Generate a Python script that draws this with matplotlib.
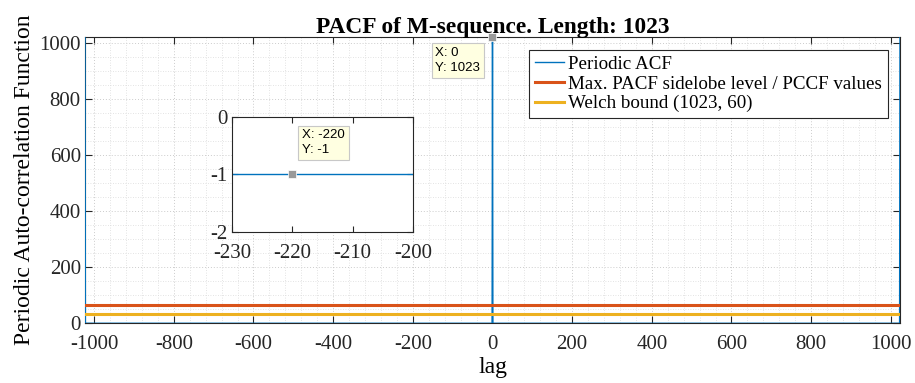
import numpy as np
import matplotlib
matplotlib.use("Agg")
import matplotlib.pyplot as plt
from matplotlib.ticker import MultipleLocator

plt.rcParams["axes.unicode_minus"] = False

N = 1023
lags = np.arange(-N, N + 1)
acf = np.full(lags.shape, -1.0)
acf[lags == 0] = 1023
acf[lags == -N] = 1023
acf[lags == N] = 1023
max_sidelobe = 63
welch_bound = 31.7

xticks = [-1000, -800, -600, -400, -200, 0, 200, 400, 600, 800, 1000]
yticks = [0, 200, 400, 600, 800, 1000]
inset_xticks = [-230, -220, -210, -200]
inset_yticks = [-2, -1, 0]
tip_main = (0, 1023)
tip_inset = (-220, -1)

BLUE = "#0072BD"
ORANGE = "#D95319"
YELLOW = "#EDB120"
serif = ["Liberation Serif", "DejaVu Serif"]
sans = ["Liberation Sans", "DejaVu Sans"]
TIPBOX = dict(boxstyle="square,pad=0.3", fc="#FFFFE1", ec="#c8c8c8", lw=0.8)

fig = plt.figure(figsize=(9.15, 3.83), dpi=100)
ax = fig.add_axes([0.0929, 0.1567, 0.8907, 0.7467])

ax.plot(lags, acf, color=BLUE, lw=1.0, label="Periodic ACF", zorder=3)
ax.axhline(max_sidelobe, color=ORANGE, lw=2.2, label="Max. PACF sidelobe level / PCCF values", zorder=3)
ax.axhline(welch_bound, color=YELLOW, lw=2.2, label="Welch bound (1023, 60)", zorder=3)

ax.set_xlim(-N, N)
ax.set_ylim(0, 1023)
ax.set_xticks(xticks)
ax.set_yticks(yticks)
ax.xaxis.set_minor_locator(MultipleLocator(40))
ax.yaxis.set_minor_locator(MultipleLocator(50))
ax.grid(True, which="major", color="#cccccc", ls=(0, (1, 2)), lw=0.7)
ax.grid(True, which="minor", color="#dadada", ls=(0, (1, 2)), lw=0.6)
ax.set_axisbelow(True)
ax.tick_params(which="major", direction="in", top=True, right=True, length=5, width=0.8,
               labelsize=15, colors="#262626")
ax.tick_params(axis="x", which="major", pad=9)
ax.tick_params(axis="y", which="major", pad=3)
ax.tick_params(which="minor", length=0)
for lab in ax.get_xticklabels() + ax.get_yticklabels():
    lab.set_fontfamily(serif)
for s in ax.spines.values():
    s.set_color("#262626")
    s.set_linewidth(0.8)

ax.set_title("PACF of M-sequence. Length: 1023", fontfamily=serif, fontsize=16.8,
             fontweight="bold", pad=3)
ax.set_xlabel("lag", fontfamily=serif, fontsize=17, labelpad=2)
ax.set_ylabel("Periodic Auto-correlation Function", fontfamily=serif, fontsize=17, labelpad=3)

leg = ax.legend(loc="upper right", bbox_to_anchor=(0.9853, 0.9545), prop={"family": serif, "size": 13.7},
                fancybox=False, edgecolor="#262626", framealpha=1, borderpad=0.3,
                labelspacing=0.12, handlelength=1.5, handletextpad=0.25, borderaxespad=0)
leg.get_frame().set_linewidth(0.8)

ax.plot([tip_main[0]], [tip_main[1]], marker="s", ms=6, color="#999999", mec="white",
        mew=0.5, clip_on=False, zorder=6)
ax.annotate("X: 0\nY: 1023", xy=tip_main, xytext=(-57, -10), textcoords="offset pixels",
            fontfamily=sans, fontsize=9.5, va="top", ha="left", linespacing=1.3,
            bbox=TIPBOX, zorder=6, annotation_clip=False)

# inset
ai = fig.add_axes([0.2536, 0.3943, 0.1978, 0.3003])
ai.plot(lags, acf, color=BLUE, lw=1.0)
ai.set_xlim(-230, -200)
ai.set_ylim(-2, 0)
ai.set_xticks(inset_xticks)
ai.set_yticks(inset_yticks)
ai.tick_params(direction="in", top=True, right=True, length=4, width=0.8,
               labelsize=15, colors="#262626")
ai.tick_params(axis="x", pad=9)
ai.tick_params(axis="y", pad=3)
for lab in ai.get_xticklabels() + ai.get_yticklabels():
    lab.set_fontfamily(serif)
for s in ai.spines.values():
    s.set_color("#262626")
    s.set_linewidth(0.8)
ai.plot([tip_inset[0]], [tip_inset[1]], marker="s", ms=6, color="#999999", mec="white",
        mew=0.5, zorder=6)
ai.annotate("X: -220\nY: -1", xy=tip_inset, xytext=(10, 45), textcoords="offset pixels",
            fontfamily=sans, fontsize=9.5, va="top", ha="left", linespacing=1.3,
            bbox=TIPBOX, zorder=6)

fig.savefig("out.png", dpi=100)
